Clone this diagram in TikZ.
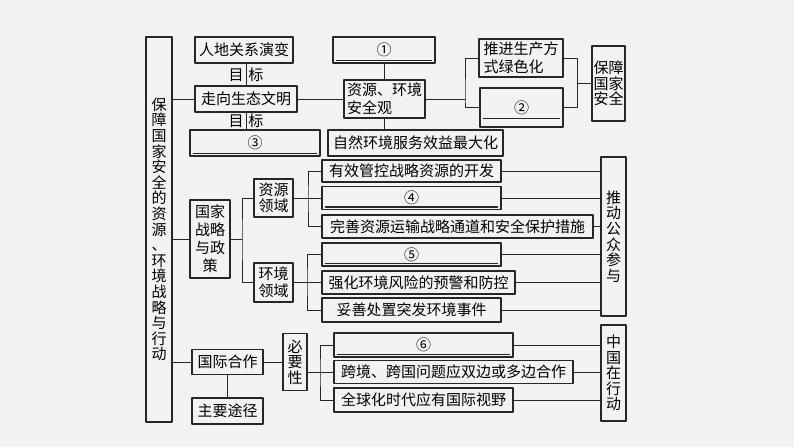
\documentclass[tikz,border=0pt]{standalone}
\usepackage{fontspec}
\newfontfamily\cjk{Noto Sans CJK SC}
\usetikzlibrary{calc}

\begin{document}
\begin{tikzpicture}[x=1pt, y=-1pt, line cap=round, line join=round,
	box/.style={draw=black!85, line width=1.1pt, inner sep=1pt, align=center, font={\cjk\fontsize{15}{18}\selectfont}},
	vbox/.style={box, font={\cjk\fontsize{15}{15.6}\selectfont}},
	sz/.style 2 args={minimum width=#1pt, minimum height=#2pt},
	link/.style={draw=black!85, line width=1pt},
	lbl/.style={inner sep=0pt, font={\cjk\fontsize{15}{18}\selectfont}}]
	
	% background
	\fill[black!5] (0,0) rectangle (794,447);
	
	% --- Left: main title column ---
	\node[vbox, sz={26}{385}] (main) at (159,229.5)
	{保\\障\\国\\家\\安\\全\\的\\资\\源\\、\\环\\境\\战\\略\\与\\行\\动};
	
	% --- Top: ecological civilisation and security view ---
	\node[box, sz={98}{26}] (rdgx) at (244,50) {人地关系演变};
	\node[box, sz={102}{26}] (stwm) at (246,99) {走向生态文明};
	\node[box, sz={130}{26}] (q3) at (255,143) {③};
	\node[box, sz={102}{26}] (q1) at (384,50) {①};
	\node[box, sz={81}{38}, align=left] (aqg) at (384.5,99) {资源、环境\\安全观};
	\node[box, sz={175}{26}] (zrhj) at (415.5,143) {自然环境服务效益最大化};
	\node[box, sz={84}{38}, align=left] (lsh) at (521,58) {推进生产方\\式绿色化};
	\node[box, sz={83}{39}] (q2) at (521.5,107.5) {②};
	\node[vbox, sz={33}{75}] (aq) at (608.5,83.5) {保障\\国家\\安全};
	
	% --- Middle: national strategy and policy ---
	\node[box, sz={40}{78}] (zl) at (210,239) {国家\\战略\\与政\\策};
	\node[box, sz={39}{38}, font={\cjk\fontsize{15}{16.7}\selectfont}] (zyly) at (273.5,198) {资源\\领域};
	\node[box, sz={39}{39}, font={\cjk\fontsize{15}{16.7}\selectfont}] (hjly) at (273.5,282.5) {环境\\领域};
	\node[box, sz={179}{22}] (yx) at (411.5,171) {有效管控战略资源的开发};
	\node[box, sz={179}{23}] (q4) at (411.5,198) {④};
	\node[box, sz={271}{23}] (ws) at (457.5,226.5) {完善资源运输战略通道和安全保护措施};
	\node[box, sz={179}{23}] (q5) at (411.5,254.5) {⑤};
	\node[box, sz={193}{23}] (qh) at (418.5,282.5) {强化环境风险的预警和防控};
	\node[box, sz={179}{24}] (ts) at (411.5,310) {妥善处置突发环境事件};
	\node[vbox, sz={25}{159}] (tdgz) at (613.5,236.5) {推\\动\\公\\众\\参\\与};
	
	% --- Bottom: international cooperation ---
	\node[box, sz={71}{25}] (gjhz) at (227.5,362) {国际合作};
	\node[box, sz={71}{26}] (zytj) at (227.5,411) {主要途径};
	\node[vbox, sz={24}{57}] (byx) at (295,362) {必\\要\\性};
	\node[box, sz={179}{24}] (q6) at (423.5,345) {⑥};
	\node[box, sz={239}{23}] (kj) at (453.5,372) {跨境、跨国问题应双边或多边合作};
	\node[box, sz={179}{24}] (qq) at (423.5,400) {全球化时代应有国际视野};
	\node[vbox, sz={25}{96}] (zgxd) at (613.5,373) {中\\国\\在\\行\\动};
	
	% answer lines in the blank boxes
	\foreach \q/\d in {q1/3,q2/9,q3/3,q4/3,q5/3,q6/3}
	\draw[link, line width=1.2pt] ([xshift=4pt,yshift=\d pt]\q.south west) -- ([xshift=-4pt,yshift=\d pt]\q.south east);
	
	% --- connectors: main column ---
	\draw[link] (main.east |- stwm.west) -- (stwm.west);
	\draw[link] (main.east |- zl.west) -- (zl.west);
	\draw[link] (main.east |- gjhz.west) -- (gjhz.west);
	
	% top block
	\draw[link] (stwm.north) -- (stwm.north |- rdgx.south) node[midway, lbl] {目\hspace{5pt}标};
	\draw[link] (stwm.south) -- (stwm.south |- q3.north) node[midway, lbl] {目\hspace{5pt}标};
	\draw[link] (stwm.east) -- (aqg.west);
	\draw[link] (q1.south) -- (q1.south |- aqg.north);
	\draw[link] (aqg.south) -- (aqg.south |- zrhj.north);
	\coordinate (b1) at (465,99);
	\draw[link] (aqg.east) -- (b1);
	\draw[link] (lsh.west) -| (b1) |- (q2.west);
	\coordinate (b2) at (577,83.5);
	\draw[link] (lsh.east) -| (b2) |- (q2.east);
	\draw[link] (b2) -- (aq.west);
	
	% strategy block
	\coordinate (b3) at (242,239);
	\draw[link] (zl.east) -- (b3);
	\draw[link] (zyly.west) -| (b3) |- (hjly.west);
	\coordinate (b4) at (308,198);
	\draw[link] (zyly.east) -- (q4.west);
	\draw[link] (yx.west) -| (b4) |- (ws.west);
	\coordinate (b5) at (307,282.5);
	\draw[link] (hjly.east) -- (qh.west);
	\draw[link] (q5.west) -| (b5) |- (ts.west);
	\foreach \n in {yx,q4,ws,q5,qh,ts}
	\draw[link] (\n.east) -- (\n.east -| tdgz.west);
	
	% cooperation block
	\draw[link] (gjhz.east) -- (byx.west);
	\draw[link] (gjhz.south) -- (zytj.north);
	\coordinate (b6) at (320,372);
	\draw[link] (kj.west) -- (kj.west -| byx.east);
	\draw[link] (q6.west) -| (b6) |- (qq.west);
	\foreach \n in {q6,kj,qq}
	\draw[link] (\n.east) -- (\n.east -| zgxd.west);
	
\end{tikzpicture}
\end{document}
